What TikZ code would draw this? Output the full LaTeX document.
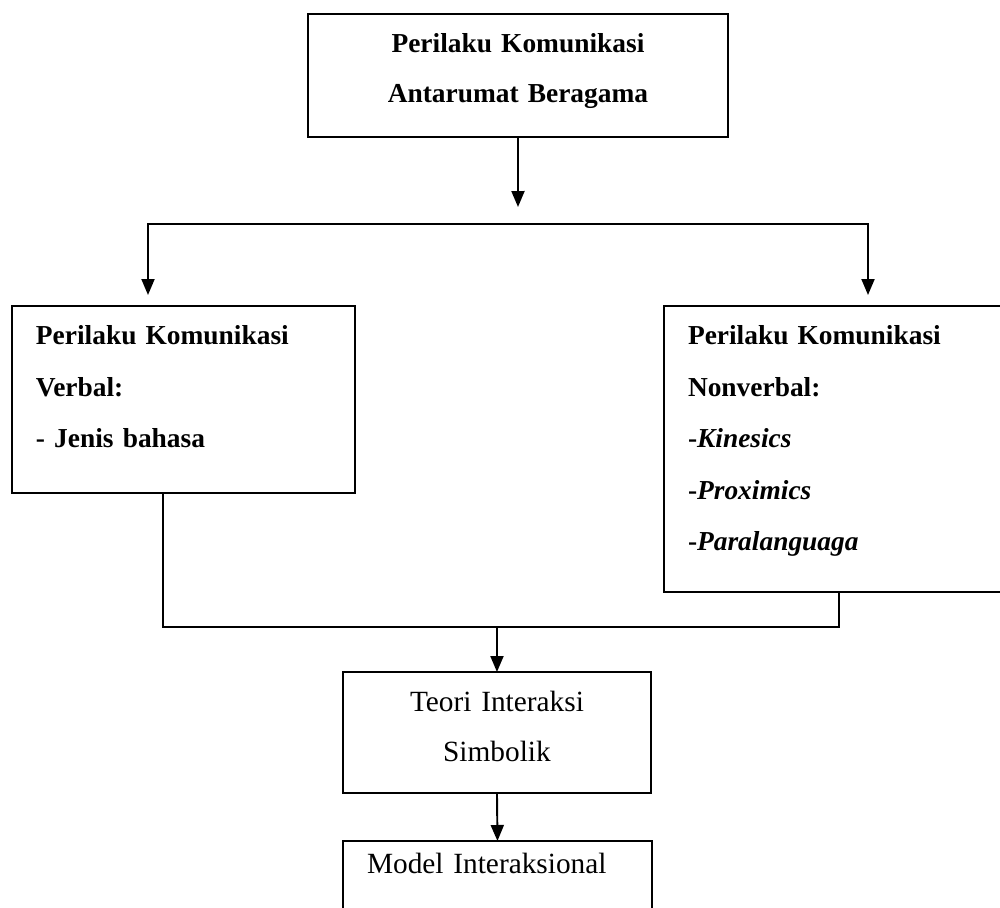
\documentclass[tikz,border=0pt]{standalone}
\usepackage{fontspec}
\setmainfont{Liberation Serif}
\usetikzlibrary{arrows.meta, positioning, calc}

\tikzset{
  box/.style={draw, line width=1.1pt, inner ysep=0pt, outer sep=0pt, anchor=north west},
  tebal/.style={font=\fontsize{15.6}{29.3}\selectfont\bfseries},
  biasa/.style={font=\fontsize{16.7}{28.45}\selectfont},
  arrow/.style={line width=1.1pt, -{Triangle[length=0.32cm, width=0.26cm]}},
  line/.style={line width=1.1pt},
}

\begin{document}
\begin{tikzpicture}[x=0.02cm, y=-0.02cm]
  \useasboundingbox (0,0) rectangle (1000,908);
  \clip (0,0) rectangle (1000,908);

  % kotak atas
  \node[box, tebal, font=\fontsize{15.6}{28.45}\selectfont\bfseries, inner xsep=0pt, text width=8.4cm,
        text height=0.78cm, text depth=1.68cm, align=center] (perilaku) at (308,14)
    {Perilaku Komunikasi\\Antarumat Beragama};

  % kotak kiri dan kanan
  \node[box, tebal, inner xsep=0.48cm, text width=5.9cm,
        text height=0.78cm, text depth=2.96cm, align=left] (verbal) at (12,306)
    {Perilaku Komunikasi\\Verbal:\\- Jenis bahasa};
  \node[box, tebal, inner xsep=0.48cm, text width=6.36cm,
        text height=0.78cm, text depth=4.94cm, align=left] (nonverbal) at (664,306)
    {Perilaku Komunikasi\\Nonverbal:\\-\textit{Kinesics}\\-\textit{Proximics}\\-\textit{Paralanguaga}};

  % kotak bawah
  \node[box, biasa, inner xsep=0pt, text width=6.16cm,
        text height=0.8cm, text depth=1.62cm, align=center] (teori) at (343,672)
    {Teori Interaksi\\Simbolik};
  \node[box, biasa, inner xsep=0.48cm, text width=5.22cm,
        text height=0.64cm, text depth=1.74cm, align=left] (model) at (343,841)
    {Model Interaksional};

  % percabangan
  \coordinate (cabang) at (518,224);
  \coordinate (gabung) at (497,627);
  \draw[arrow, shorten >=0.34cm] (perilaku.south) -- (cabang);
  \draw[arrow, shorten >=0.22cm] (cabang) -| (148,0 |- verbal.north);
  \draw[arrow, shorten >=0.22cm] (cabang) -| (868,0 |- nonverbal.north);

  \draw[line] (163,0 |- verbal.south) |- (gabung) -| (839,0 |- nonverbal.south);
  \draw[arrow] (gabung) -- (teori.north);
  \draw[arrow] (teori.south) -- (model.north);
\end{tikzpicture}
\end{document}
